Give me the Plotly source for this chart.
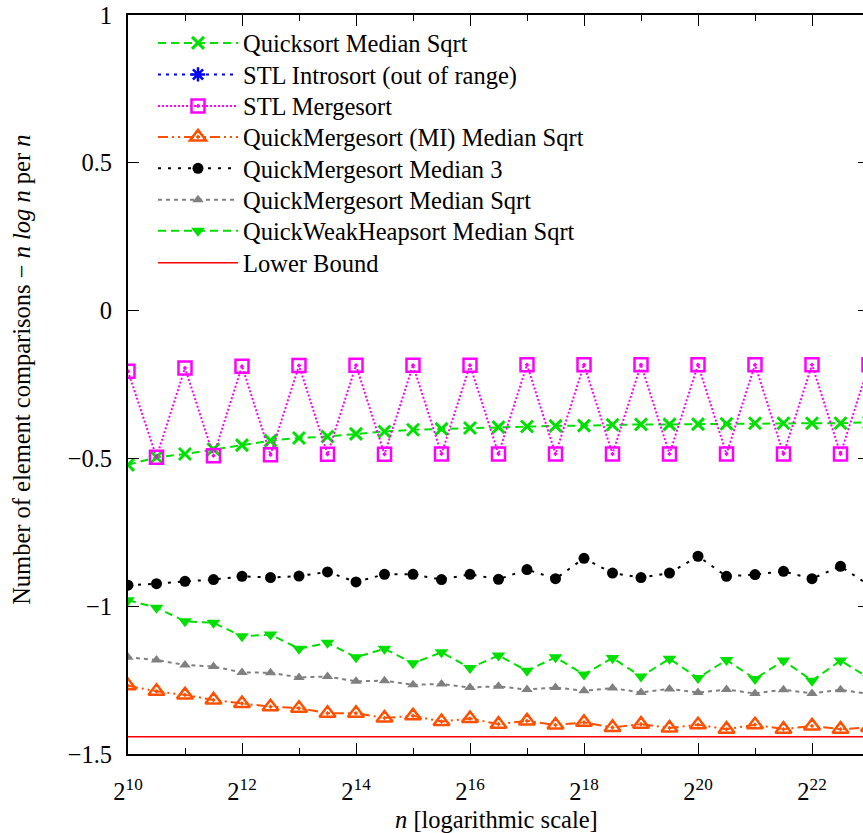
import math
import plotly.graph_objects as go

# exponents of n (n = 2^e)
exponents = [10 + 0.5 * i for i in range(27)]
n_values = [2 ** e for e in exponents]

quicksort_median_sqrt = [-0.522, -0.496, -0.485, -0.469, -0.455, -0.440, -0.431, -0.426, -0.417,
                         -0.409, -0.403, -0.400, -0.397, -0.394, -0.392, -0.390, -0.389, -0.386,
                         -0.385, -0.385, -0.384, -0.383, -0.381, -0.381, -0.381, -0.381, -0.378]
stl_mergesort = [-0.205, -0.496, -0.194, -0.491, -0.188, -0.488, -0.186, -0.486, -0.185,
                 -0.486, -0.185, -0.485, -0.185, -0.485, -0.183, -0.485, -0.183, -0.485,
                 -0.183, -0.485, -0.183, -0.485, -0.183, -0.485, -0.183, -0.485, -0.183]
qms_mi_median_sqrt = [-1.269, -1.288, -1.300, -1.317, -1.329, -1.340, -1.345, -1.362, -1.362,
                      -1.378, -1.371, -1.390, -1.380, -1.399, -1.388, -1.402, -1.393, -1.410,
                      -1.399, -1.412, -1.401, -1.416, -1.401, -1.416, -1.405, -1.416, -1.410]
qms_median3 = [-0.929, -0.924, -0.916, -0.910, -0.899, -0.903, -0.898, -0.884, -0.918,
               -0.892, -0.892, -0.910, -0.892, -0.909, -0.876, -0.907, -0.838, -0.888,
               -0.903, -0.888, -0.831, -0.899, -0.893, -0.882, -0.907, -0.865, -0.929]
qms_median_sqrt = [-1.173, -1.182, -1.199, -1.204, -1.224, -1.225, -1.241, -1.238, -1.254,
                   -1.252, -1.266, -1.263, -1.275, -1.271, -1.282, -1.275, -1.286, -1.277,
                   -1.292, -1.280, -1.292, -1.282, -1.295, -1.283, -1.295, -1.283, -1.297]
qwhs_median_sqrt = [-0.980, -1.005, -1.051, -1.056, -1.102, -1.096, -1.144, -1.124, -1.173,
                    -1.144, -1.193, -1.156, -1.209, -1.167, -1.218, -1.173, -1.231, -1.175,
                    -1.238, -1.178, -1.243, -1.182, -1.246, -1.184, -1.252, -1.184, -1.243]
lower_bound = [-1.442] * 27

major_exps = [10, 12, 14, 16, 18, 20, 22]
minor_exps = [11, 13, 15, 17, 19, 21, 23]
x_tick_text = ["2<sup>%d</sup>" % e for e in major_exps]
y_ticks = [1, 0.5, 0, -0.5, -1, -1.5]

FONT = "Liberation Serif, Times New Roman, serif"
FS = 24.5
GREEN = "#00e000"

# plot area spans screen x 128..869 (right border just beyond the window), y 15..754
PLOT_TOP, PLOT_H = 15, 739.3
LEGEND_ROWS_Y = [42, 73.5, 105, 136, 167.5, 199, 230, 262]  # screen y of legend rows

fig = go.Figure()
legend_layouts = {}
_k = [0]


def legend_name():
    _k[0] += 1
    i = _k[0]
    key = "legend" if i == 1 else "legend%d" % i
    legend_layouts[key] = dict(
        x=(153 - 128) / 741, y=1 - (LEGEND_ROWS_Y[i - 1] + 1 - PLOT_TOP) / PLOT_H,
        xanchor="left", yanchor="middle", bgcolor="rgba(0,0,0,0)", itemwidth=80,
        font=dict(family=FONT, size=FS))
    return key


def add(name, y, color, dash, symbol, size, lw=2, mlw=2):
    fig.add_trace(go.Scatter(
        x=n_values if y is not None else [None], y=y if y is not None else [None],
        name=name, legend=legend_name(), mode="lines+markers",
        line=dict(color=color, width=lw, dash=dash),
        marker=dict(symbol=symbol, size=size, color=color,
                    line=dict(color=color, width=mlw)),
    ))


add("Quicksort Median Sqrt", quicksort_median_sqrt, GREEN, "8px,5px", "x-thin-open", 12, mlw=3)
add("STL Introsort (out of range)", None, "#0000ff", "3px,5px", "asterisk-open", 12, mlw=2.5)
add("STL Mergesort", stl_mergesort, "#ff00ff", "2px,2px", "square-open-dot", 13, mlw=2.5)
add("QuickMergesort (MI) Median Sqrt", qms_mi_median_sqrt, "#ff5000",
    "10px,4px,2px,4px,2px,4px", "triangle-up-open-dot", 14, mlw=2.5)
add("QuickMergesort Median 3", qms_median3, "#000000", "3px,7px", "circle", 11, mlw=0)
add("QuickMergesort Median Sqrt", qms_median_sqrt, "#808080", "4px,4px", "triangle-up", 10, mlw=0)
add("QuickWeakHeapsort Median Sqrt", qwhs_median_sqrt, GREEN, "8px,5px", "triangle-down", 12, mlw=0)
fig.add_trace(go.Scatter(x=n_values, y=lower_bound, name="Lower Bound", legend=legend_name(),
                         mode="lines", line=dict(color="#ff0000", width=1.5)))
# invisible anchor trace for the top (mirrored) x axis
fig.add_trace(go.Scatter(x=[None], y=[None], xaxis="x2", showlegend=False, hoverinfo="skip"))

x0 = math.log10(2 ** 10)
x1 = math.log10(2 ** 23)

tick_common = dict(ticks="inside", ticklen=11, tickwidth=1, tickcolor="black",
                   showgrid=False, zeroline=False, automargin=False)
minor_common = dict(tickmode="array", tickvals=[2 ** e for e in minor_exps],
                    ticks="inside", ticklen=6, tickwidth=1, tickcolor="black", showgrid=False)

fig.update_layout(
    width=871, height=833,
    margin=dict(l=128, r=2, t=15, b=78.7),
    paper_bgcolor="white", plot_bgcolor="white",
    font=dict(family=FONT, size=FS, color="black"),
    showlegend=True,
    xaxis=dict(type="log", range=[x0, x1], tickmode="array",
               tickvals=[2 ** e for e in major_exps], ticktext=x_tick_text,
               showline=True, linewidth=2, linecolor="black", mirror="ticks",
               ticklabelstandoff=15, minor=minor_common,
               tickfont=dict(family=FONT, size=FS), **tick_common),
    xaxis2=dict(type="log", range=[x0, x1], overlaying="x", side="top", anchor="y",
                tickmode="array", tickvals=[2 ** e for e in major_exps],
                showticklabels=False, showline=True, linewidth=2, linecolor="black",
                minor=minor_common, **tick_common),
    yaxis=dict(range=[-1.5, 1], tickmode="array", tickvals=y_ticks,
               showline=True, linewidth=2, linecolor="black", mirror="ticks",
               ticklabelstandoff=9, ticklabeloverflow="allow",
               tickfont=dict(family=FONT, size=FS), **tick_common),
    annotations=[
        dict(text="Number of element comparisons − <i>n log n</i> per <i>n</i>",
             xref="paper", yref="paper", x=(22 - 128) / 741, y=(754.3 - 370) / 739.3,
             xanchor="center", yanchor="middle", textangle=-90, showarrow=False,
             font=dict(family=FONT, size=FS)),
        dict(text="<i>n</i> [logarithmic scale]",
             xref="paper", yref="paper", x=(496 - 128) / 741, y=(754.3 - 820) / 739.3,
             xanchor="center", yanchor="middle", showarrow=False,
             font=dict(family=FONT, size=FS)),
    ],
    **legend_layouts,
)

fig.write_html("out.html", config={"displayModeBar": False},
               post_script="document.body.style.margin='0';")
